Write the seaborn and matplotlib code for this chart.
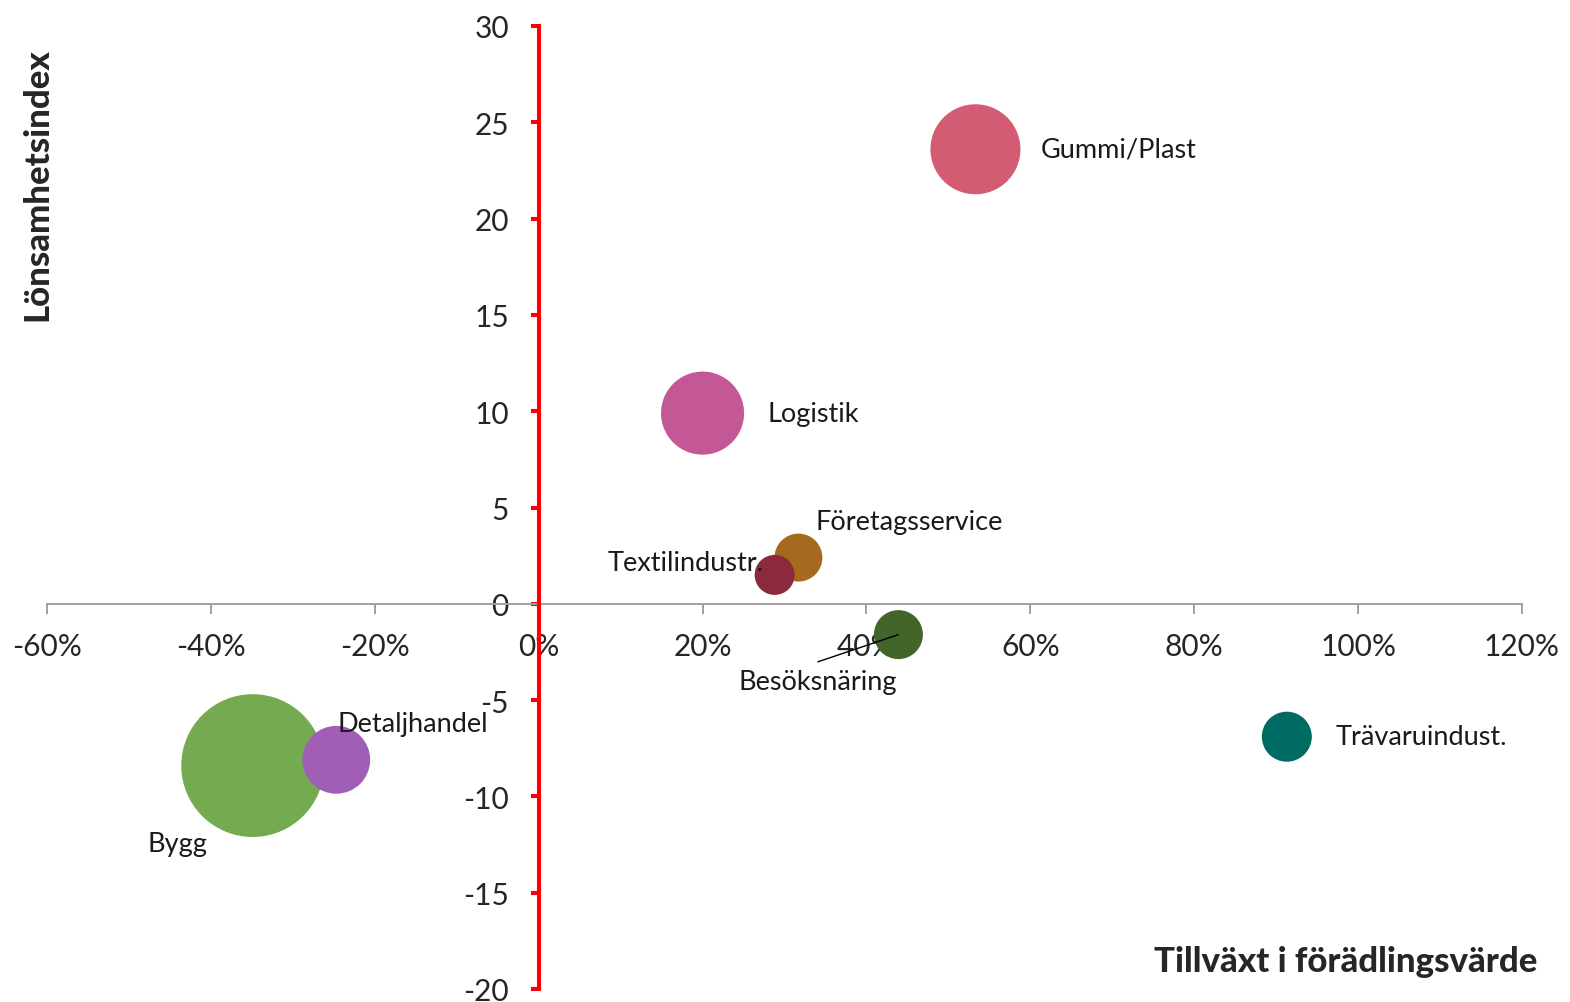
import matplotlib
matplotlib.use('Agg')
import pandas as pd
import seaborn as sns
import matplotlib.pyplot as plt
from matplotlib.ticker import FuncFormatter

# --- Data ---
branscher = ['Gummi/Plast', 'Logistik', 'Företagsservice', 'Textilindustr.',
             'Besöksnäring', 'Trävaruindust.', 'Bygg', 'Detaljhandel']
tillvaxt = [53.3, 20.0, 31.7, 28.8, 43.9, 91.3, -34.9, -24.7]       # % growth in value added
lonsamhet = [23.6, 9.9, 2.4, 1.5, -1.6, -6.9, -8.4, -8.1]           # profitability index
storlek = [81, 69, 23, 16, 24, 25, 204, 46]                         # bubble size
farger = ['#D35B72', '#C45896', '#A66A1E', '#8C2A3D',
          '#44652A', '#006B63', '#74AB50', '#A05FB5']

x_ticks = [-60, -40, -20, 0, 20, 40, 60, 80, 100, 120]
y_ticks = [-20, -15, -10, -5, 0, 5, 10, 15, 20, 25, 30]

df = pd.DataFrame({'bransch': branscher, 'x': tillvaxt, 'y': lonsamhet, 'storlek': storlek})

# --- Styling ---
sns.set_style("white")
plt.rcParams['font.family'] = ['Lato', 'DejaVu Sans']
plt.rcParams['axes.unicode_minus'] = False

fig = plt.figure(figsize=(15.7, 10.03), dpi=100)
ax = fig.add_axes([47 / 1570, 13 / 1003, 1475 / 1570, 963 / 1003])

k = 51.84  # storlek -> points^2
sns.scatterplot(data=df, x='x', y='y', hue='bransch', palette=farger,
                size='storlek', sizes=(min(storlek) * k, max(storlek) * k),
                size_norm=(min(storlek), max(storlek)),
                linewidth=0, alpha=1, legend=False, ax=ax, zorder=3)

ax.set_xlim(-60, 120)
ax.set_ylim(-20, 30)
ax.set_xticks(x_ticks)
ax.set_yticks(y_ticks)
ax.xaxis.set_major_formatter(FuncFormatter(lambda v, p: f'{v:.0f}%'))
ax.set_xlabel('')
ax.set_ylabel('')

for s in ['top', 'right']:
    ax.spines[s].set_visible(False)
ax.spines['left'].set_position(('data', 0))
ax.spines['bottom'].set_position(('data', 0))
ax.spines['left'].set_color('#FF0000')
ax.spines['left'].set_linewidth(2.9)
ax.spines['bottom'].set_color('#A0A0A0')
ax.spines['bottom'].set_linewidth(1.4)
ax.spines['left'].set_zorder(4)

ax.tick_params(axis='x', direction='out', length=7, width=1.4, color='#A0A0A0',
               labelsize=21.5, pad=13, bottom=True)
ax.tick_params(axis='y', direction='out', length=5.5, width=2.9, color='#FF0000',
               labelsize=21.5, pad=16, left=True)
ax.grid(False)

# Data labels (offsets in points)
offsets = {
    'Gummi/Plast': (47, 0, 'left', 'center'),
    'Logistik': (47, 0, 'left', 'center'),
    'Företagsservice': (12, 26, 'left', 'center'),
    'Textilindustr.': (-8, 9, 'right', 'center'),
    'Besöksnäring': (-58, -34, 'center', 'center'),
    'Trävaruindust.': (35, 0, 'left', 'center'),
    'Bygg': (-54, -56, 'center', 'center'),
    'Detaljhandel': (1, 26, 'left', 'center'),
}
for b, xv, yv in zip(branscher, tillvaxt, lonsamhet):
    dx, dy, ha, va = offsets[b]
    if b == 'Besöksnäring':
        ax.annotate(b, xy=(xv, yv), xytext=(dx, dy), textcoords='offset points',
                    ha=ha, va=va, fontsize=19.5, color='#1a1a1a', zorder=5,
                    arrowprops=dict(arrowstyle='-', color='black', lw=1,
                                    shrinkA=0, shrinkB=0, relpos=(0.5, 1.3)))
    else:
        ax.annotate(b, xy=(xv, yv), xytext=(dx, dy), textcoords='offset points',
                    ha=ha, va=va, fontsize=19.5, color='#1a1a1a', zorder=5)

fig.text(1537 / 1570, 1 - 962 / 1003, 'Tillväxt i förädlingsvärde', ha='right', va='center',
         fontsize=25, fontweight='black')
fig.text(37 / 1570, 1 - 185 / 1003, 'Lönsamhetsindex', ha='center', va='center',
         rotation=90, fontsize=25, fontweight='black')

plt.savefig('out.png', dpi=100)
